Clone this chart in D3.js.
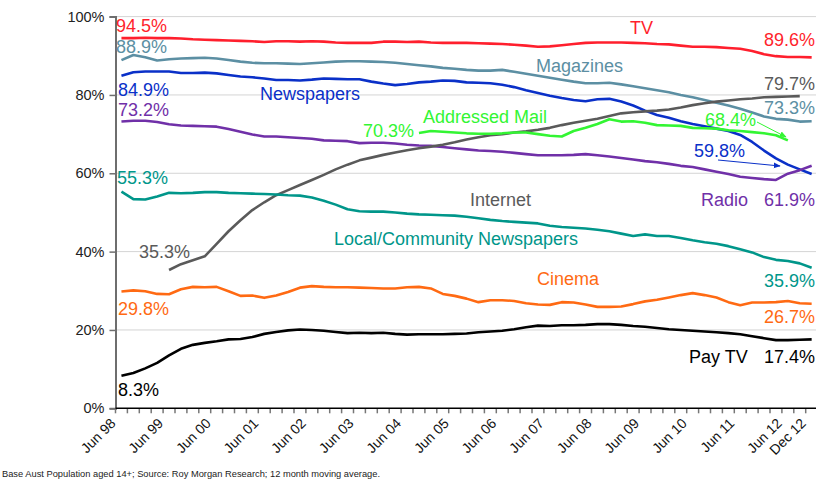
<!DOCTYPE html>
<html><head><meta charset="utf-8">
<script src="https://cdn.jsdelivr.net/npm/d3@7"></script>
<style>
html,body{margin:0;padding:0;background:#fff;overflow:hidden}
svg{display:block;font-family:"Liberation Sans",Arial,sans-serif}
</style></head>
<body>
<svg id="c" width="816" height="481"></svg>
<script>
// ---------- DATA ----------
const periods = ["Jun 98","Sep 98","Dec 98","Mar 99","Jun 99","Sep 99","Dec 99","Mar 00","Jun 00","Sep 00","Dec 00","Mar 01","Jun 01","Sep 01","Dec 01","Mar 02","Jun 02","Sep 02","Dec 02","Mar 03","Jun 03","Sep 03","Dec 03","Mar 04","Jun 04","Sep 04","Dec 04","Mar 05","Jun 05","Sep 05","Dec 05","Mar 06","Jun 06","Sep 06","Dec 06","Mar 07","Jun 07","Sep 07","Dec 07","Mar 08","Jun 08","Sep 08","Dec 08","Mar 09","Jun 09","Sep 09","Dec 09","Mar 10","Jun 10","Sep 10","Dec 10","Mar 11","Jun 11","Sep 11","Dec 11","Mar 12","Jun 12","Sep 12","Dec 12"];
const tickLabels = ["Jun 98","Jun 99","Jun 00","Jun 01","Jun 02","Jun 03","Jun 04","Jun 05","Jun 06","Jun 07","Jun 08","Jun 09","Jun 10","Jun 11","Jun 12","Dec 12"];
const yTicks = [0, 20, 40, 60, 80, 100];

const tv = [94.5,94.5,94.6,94.5,94.5,94.4,94.2,94.1,94.0,93.9,93.8,93.7,93.5,93.7,93.7,93.6,93.7,93.6,93.4,93.3,93.3,93.3,93.6,93.6,93.5,93.6,93.4,93.3,93.3,93.3,93.2,93.1,93.0,92.8,92.6,92.3,92.4,92.7,93.0,93.3,93.4,93.4,93.4,93.3,93.2,93.0,92.9,92.6,92.3,92.3,92.2,92.0,91.8,91.2,90.4,89.9,89.7,89.7,89.6];
const magazines = [88.9,90.2,89.6,88.8,89.1,89.3,89.4,89.5,89.3,88.9,88.5,88.2,88.1,88.1,88.0,87.9,88.1,88.3,88.5,88.6,88.6,88.5,88.4,88.2,87.9,87.6,87.3,86.9,86.7,86.4,86.2,86.2,86.4,85.9,85.4,84.9,84.4,83.9,83.4,83.0,83.0,83.1,82.7,82.2,81.7,81.2,80.7,80.0,79.4,78.7,78.0,77.3,76.5,75.5,74.5,73.9,73.7,73.2,73.3];
const newspapers = [84.9,85.8,86.0,86.0,86.0,85.6,85.6,85.7,85.5,85.1,84.7,84.5,84.2,83.8,83.8,83.7,83.9,84.2,84.1,84.0,84.0,83.4,82.9,82.5,82.8,83.2,83.4,83.7,83.6,83.2,83.1,83.0,82.6,82.0,81.2,80.5,79.8,79.2,78.7,78.4,78.9,79.0,78.3,77.3,76.0,74.9,74.2,73.3,72.6,72.0,71.4,70.8,69.8,68.0,65.8,63.8,62.2,61.0,59.8];
const radio = [73.2,73.4,73.4,73.1,72.5,72.2,72.1,72.0,71.9,71.3,70.6,69.9,69.4,69.4,69.2,69.0,68.8,68.4,68.3,68.2,67.7,67.8,67.8,67.6,67.3,67.1,67.0,66.7,66.4,66.1,65.8,65.7,65.5,65.2,64.9,64.6,64.6,64.6,64.7,64.9,64.6,64.3,63.9,63.5,63.1,62.8,62.4,61.9,61.6,61.0,60.4,59.8,59.1,58.8,58.5,58.3,59.9,60.8,61.9];
const internet = [null,null,null,null,35.3,36.8,37.8,38.8,42.0,45.2,48.0,50.6,52.6,54.4,55.7,57.0,58.3,59.6,61.0,62.2,63.3,64.0,64.7,65.3,65.9,66.4,66.8,67.3,67.9,68.6,69.2,69.7,70.0,70.4,70.7,71.1,71.6,72.3,72.9,73.4,73.9,74.6,75.3,75.6,75.8,76.0,76.3,76.8,77.4,77.9,78.3,78.6,78.9,79.1,79.4,79.5,79.6,79.7,null];
const addressedMail = [null,null,null,null,null,null,null,null,null,null,null,null,null,null,null,null,null,null,null,null,null,null,null,null,null,70.3,70.8,70.6,70.4,70.2,70.1,70.1,70.2,70.4,70.4,70.0,69.6,69.4,70.8,71.6,72.6,73.8,73.2,73.3,72.9,72.3,72.2,72.1,71.6,71.5,71.4,71.0,70.8,70.5,70.2,69.7,68.4,null,null];
const localNews = [55.3,53.4,53.3,54.1,55.0,54.9,55.0,55.2,55.2,55.0,54.9,54.8,54.7,54.6,54.4,54.3,53.8,53.0,52.0,50.8,50.3,50.2,50.2,50.0,49.7,49.5,49.4,49.3,49.2,48.9,48.5,48.1,47.8,47.6,47.4,47.2,46.6,46.3,46.1,45.9,45.6,45.2,44.6,44.0,44.4,44.0,44.0,43.5,42.9,42.4,42.0,41.4,40.6,39.8,38.6,37.9,37.6,37.0,35.9];
const cinema = [29.8,30.1,29.9,29.2,29.1,30.4,31.0,30.9,31.0,29.9,28.7,28.8,28.2,28.8,29.7,30.8,31.2,31.0,30.9,30.9,30.8,30.7,30.6,30.6,30.9,31.0,30.6,29.2,28.7,28.0,27.1,27.6,27.6,27.4,26.8,26.5,26.4,27.1,27.0,26.5,25.9,25.9,26.0,26.6,27.3,27.7,28.3,28.9,29.4,28.9,28.3,27.1,26.3,27.0,27.0,27.1,27.4,26.8,26.7];
const payTV = [8.3,9.0,10.2,11.6,13.5,15.2,16.2,16.7,17.1,17.6,17.7,18.2,19.0,19.5,19.9,20.1,20.0,19.8,19.5,19.2,19.3,19.2,19.3,19.0,18.8,18.9,18.9,18.9,19.0,19.1,19.4,19.6,19.8,20.2,20.7,21.1,21.0,21.2,21.2,21.3,21.5,21.5,21.3,21.0,20.8,20.5,20.2,20.0,19.8,19.6,19.4,19.2,18.9,18.4,17.9,17.4,17.4,17.5,17.6];

const seriesNames = ["TV","Magazines","Newspapers","Radio","Internet","Addressed Mail","Local/Community Newspapers","Cinema","Pay TV"];
const seriesValues = [tv, magazines, newspapers, radio, internet, addressedMail, localNews, cinema, payTV];
const footnote = "Base Aust Population aged 14+; Source: Roy Morgan Research; 12 month moving average.";

// ---------- STYLE / LAYOUT ----------
const colors = {
  "TV":"#FF1F2D","Magazines":"#5C8FA3","Newspapers":"#0A30C8","Radio":"#7030A8",
  "Internet":"#5A5A5A","Addressed Mail":"#33F533","Local/Community Newspapers":"#00968A",
  "Cinema":"#FF6A13","Pay TV":"#000000"
};
const svg = d3.select("#c");
const W = 816;
const plotLeft = 115.5, plotBottom = 408.3, plotTop = 16.6;

const xb = d3.scaleBand().domain(periods).range([plotLeft, plotLeft + 11.9 * periods.length]).paddingInner(0).paddingOuter(0);
const xc = d => xb(d) + xb.bandwidth() / 2;
const y = d3.scaleLinear().domain([0, 100]).range([plotBottom, plotTop]);

// gridlines
svg.append("g").selectAll("line").data(yTicks.filter(d => d > 0)).join("line")
  .attr("x1", plotLeft).attr("x2", W).attr("y1", d => y(d)).attr("y2", d => y(d))
  .attr("stroke", "#D4D4D4").attr("stroke-width", 1);

// y axis
const ya = svg.append("g").attr("transform", `translate(${plotLeft},0)`)
  .call(d3.axisLeft(y).tickValues(yTicks).tickFormat(d => d + "%").tickSize(6).tickPadding(5));
ya.select(".domain").attr("stroke", "#6E6E6E").attr("stroke-width", 2);
ya.selectAll(".tick line").attr("stroke", "#6E6E6E").attr("stroke-width", 1.5);
ya.selectAll("text").attr("font-size", 14.5).attr("fill", "#222").attr("font-family", "Liberation Sans, Arial, sans-serif");

// x axis: ticks at category boundaries
const xg = svg.append("g");
xg.selectAll("line.tk").data(periods).join("line").attr("class", "tk")
  .attr("x1", d => xb(d)).attr("x2", d => xb(d)).attr("y1", plotBottom).attr("y2", plotBottom + 5)
  .attr("stroke", "#777").attr("stroke-width", 1.5);
xg.append("line").attr("x1", plotLeft).attr("x2", W).attr("y1", plotBottom).attr("y2", plotBottom)
  .attr("stroke", "#000").attr("stroke-width", 1.5);
xg.selectAll("text").data(tickLabels).join("text")
  .attr("transform", d => `translate(${xc(d) - 5},${plotBottom + 16}) rotate(-45)`)
  .attr("text-anchor", "end").attr("font-size", 14).attr("fill", "#111")
  .text(d => d);

// lines
const line = d3.line().defined(d => d.v != null).x(d => xc(d.p)).y(d => y(d.v));
seriesNames.forEach((name, k) => {
  const data = seriesValues[k].map((v, i) => ({p: periods[i], v}));
  svg.append("path").datum(data).attr("d", line).attr("fill", "none")
    .attr("stroke", colors[name]).attr("stroke-width", 2.6).attr("stroke-linejoin", "round");
});

// labels
const labels = [
  ["94.5%","TV",116,32,"start"],["88.9%","Magazines",116,53,"start"],["84.9%","Newspapers",118,96,"start"],
  ["73.2%","Radio",118,116,"start"],["55.3%","Local/Community Newspapers",117,184,"start"],
  ["35.3%","Internet",139,258,"start"],["29.8%","Cinema",118,315,"start"],["8.3%","Pay TV",118,396,"start"],
  ["TV","TV",630,34,"start"],["Magazines","Magazines",536,72,"start"],["Newspapers","Newspapers",260,100,"start"],
  ["Addressed Mail","Addressed Mail",423,123,"start"],["70.3%","Addressed Mail",363,137,"start"],
  ["Internet","Internet",470,206,"start"],["Local/Community Newspapers","Local/Community Newspapers",334,245,"start"],
  ["Cinema","Cinema",537,285,"start"],["Radio","Radio",701,206,"start"],["Pay TV","Pay TV",689,363,"start"],
  ["89.6%","TV",815,46,"end"],["79.7%","Internet",815,90,"end"],["73.3%","Magazines",815,114,"end"],
  ["68.4%","Addressed Mail",705,126,"start"],["59.8%","Newspapers",694,157,"start"],
  ["61.9%","Radio",815,206,"end"],["35.9%","Local/Community Newspapers",815,287,"end"],
  ["26.7%","Cinema",815,323,"end"],["17.4%","Pay TV",815,363,"end"]
];
svg.append("g").selectAll("text").data(labels).join("text")
  .attr("x", d => d[2]).attr("y", d => d[3]).attr("text-anchor", d => d[4])
  .attr("font-size", 18).attr("fill", d => colors[d[1]]).text(d => d[0]);

// arrows
const defs = svg.append("defs");
[["ag", colors["Addressed Mail"]], ["ab", colors["Newspapers"]]].forEach(([id, c]) => {
  defs.append("marker").attr("id", id).attr("viewBox", "0 0 10 10").attr("refX", 9).attr("refY", 5)
    .attr("markerWidth", 7).attr("markerHeight", 7).attr("orient", "auto")
    .append("path").attr("d", "M0,1 L10,5 L0,9 Z").attr("fill", c);
});
svg.append("line").attr("x1", 757).attr("y1", 122).attr("x2", 786).attr("y2", 137)
  .attr("stroke", colors["Addressed Mail"]).attr("stroke-width", 1).attr("marker-end", "url(#ag)");
svg.append("line").attr("x1", 718).attr("y1", 160).attr("x2", 780).attr("y2", 166)
  .attr("stroke", colors["Newspapers"]).attr("stroke-width", 1).attr("marker-end", "url(#ab)");

// footnote
svg.append("text").attr("x", 2).attr("y", 477).attr("font-size", 9.3).attr("fill", "#222").text(footnote);
</script>
</body></html>
